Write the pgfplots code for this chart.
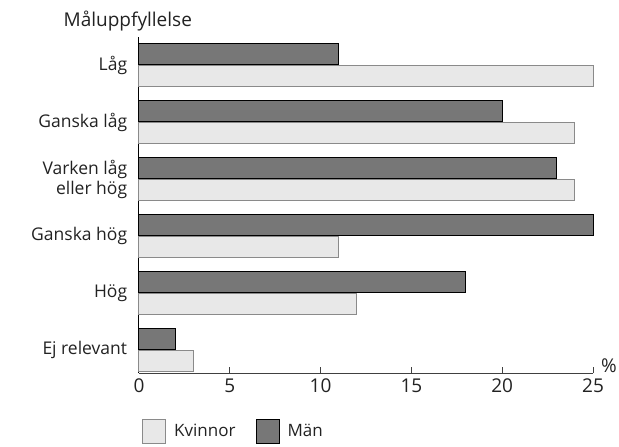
\documentclass[border=0pt]{standalone}
\usepackage{pgfplots}
\pgfplotsset{compat=1.18}
\usepackage{fontspec}
\setmainfont{Open Sans}
\definecolor{mandark}{HTML}{777777}
\definecolor{kvlight}{HTML}{E8E8E8}
\definecolor{kvedge}{HTML}{8A8A8A}
\definecolor{txt}{HTML}{222222}
\begin{document}
\fontsize{17}{20}\selectfont
\begin{tikzpicture}
\useasboundingbox (-139pt,-74pt) rectangle (480pt,373pt);
\begin{axis}[
  scale only axis,
  width=454pt, height=336pt,
  xbar,
  xmin=0, xmax=25,
  ymin=-0.5, ymax=5.41,
  y dir=reverse,
  axis x line*=bottom,
  axis y line*=left,
  x axis line style={draw=black!75, line width=1pt},
  y axis line style={draw=black, line width=1pt},
  xtick={0,5,10,15,20,25},
  xtick style={draw=black!75, line width=1pt},
  xtick align=inside,
  major tick length=6pt,
  ytick={0,1,2,3,4,5},
  yticklabels={Låg,Ganska låg,{Varken låg\\eller hög},Ganska hög,Hög,Ej relevant},
  yticklabel style={align=right, font=\fontsize{17.5}{20}\selectfont, text=txt},
  ytick style={draw=none},
  /pgf/number format/assume math mode=true,
  xticklabel style={font=\fontsize{19}{20}\selectfont, text=txt},
  bar width=21pt,
  legend style={draw=none, at={(rel axis cs:0,0)}, anchor=north west, xshift=0pt, yshift=-44pt, legend columns=2, font=\fontsize{17}{20}\selectfont, text=txt,
    /tikz/every odd column/.append style={column sep=6pt},
    /tikz/every even column/.append style={column sep=18pt}},
  legend image code/.code={\draw[#1] (0pt,-12pt) rectangle (23pt,12pt);},
  clip=false,
]
\addplot[fill=kvlight, draw=kvedge, line width=1pt, bar shift=-11pt] coordinates {
 (25,0) (24,1) (24,2) (11,3) (12,4) (3,5)};
\addlegendentry{Kvinnor}
\addplot[fill=mandark, draw=black, line width=1pt, bar shift=11pt] coordinates {
 (11,0) (20,1) (23,2) (25,3) (18,4) (2,5)};
\addlegendentry{Män}
\node[anchor=base east, inner sep=0pt, text=txt, font=\fontsize{19}{21}\selectfont, yshift=11pt] at (rel axis cs:0.117,1) {Måluppfyllelse};
\node[anchor=base west, inner sep=0pt, text=txt, font=\fontsize{19}{20}\selectfont, xshift=8pt, yshift=1pt] at (rel axis cs:1,0) {\%};
\end{axis}
\end{tikzpicture}
\end{document}
